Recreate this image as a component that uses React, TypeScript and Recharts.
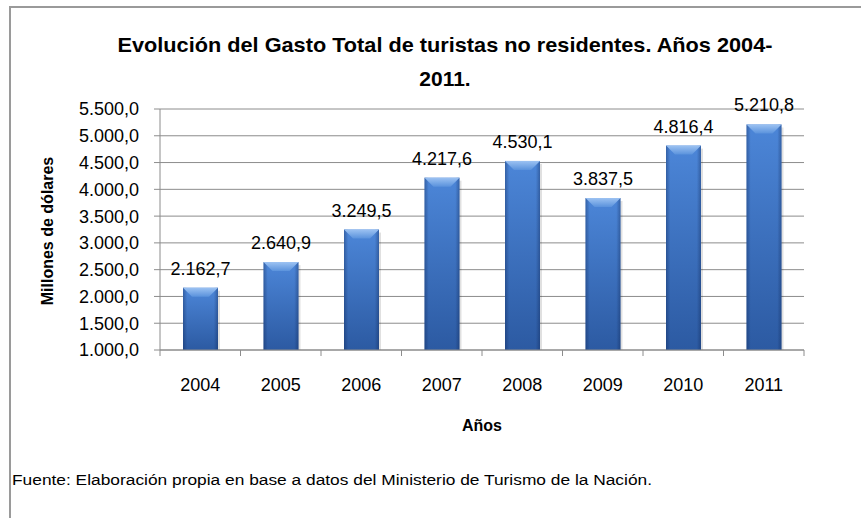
import React from "react";
import {
  Bar,
  BarChart,
  CartesianGrid,
  LabelList,
  XAxis,
  YAxis,
} from "recharts";

const years = ["2004", "2005", "2006", "2007", "2008", "2009", "2010", "2011"];
const gasto = [2162.7, 2640.9, 3249.5, 4217.6, 4530.1, 3837.5, 4816.4, 5210.8];
const yTicks = [1000, 1500, 2000, 2500, 3000, 3500, 4000, 4500, 5000, 5500];

const title1 = "Evolución del Gasto Total de turistas no residentes. Años 2004-";
const title2 = "2011.";
const yTitle = "Millones de dólares";
const xTitle = "Años";
const source =
  "Fuente: Elaboración propia en base a datos del Ministerio de Turismo de la Nación.";

const data = years.map((year, i) => ({ year, gasto: gasto[i] }));

const FONT = "'Liberation Sans', Arial, sans-serif";
const GRID = "#8c8c8c";

// 2162.7 -> "2.162,7"
function fmt(v: number) {
  const [int, dec] = v.toFixed(1).split(".");
  return int.replace(/\B(?=(\d{3})+(?!\d))/g, ".") + "," + dec;
}

function BevelBar(props: any) {
  const { x, y, width, height } = props;
  if (!height || height <= 0) return null;
  const bev = Math.min(9, height / 2);
  return (
    <g>
      <rect x={x + 2} y={y + 3} width={width} height={height} fill="rgba(0,0,0,0.12)" />
      <rect x={x} y={y} width={width} height={height} fill="url(#barV)" />
      <rect x={x} y={y} width={width} height={height} fill="url(#barH)" />
      <polygon
        points={`${x},${y} ${x + width},${y} ${x + width - bev},${y + bev} ${x + bev},${y + bev}`}
        fill="url(#barTop)"
      />
    </g>
  );
}

function YearTick(props: any) {
  const { x, y, payload, index } = props;
  const off = payload.offset || 0;
  const last = index === years.length - 1;
  return (
    <g>
      <line x1={x - off} y1={y} x2={x - off} y2={y + 6} stroke={GRID} />
      {last && <line x1={x + off} y1={y} x2={x + off} y2={y + 6} stroke={GRID} />}
      <text x={x} y={y + 41} textAnchor="middle" fontSize={18} fontFamily={FONT} fill="#000">
        {payload.value}
      </text>
    </g>
  );
}

export default function App() {
  return (
    <div
      style={{
        position: "fixed",
        left: 0,
        top: 0,
        width: 861,
        height: 518,
        overflow: "hidden",
        background: "#fff",
      }}
    >
      <div
        style={{
          position: "absolute",
          left: 9,
          top: 6,
          width: 900,
          height: 600,
          border: "2px solid #9a9a9a",
        }}
      />
      <div style={{ position: "absolute", left: 0, top: 0 }}>
        <BarChart
          width={861}
          height={518}
          data={data}
          margin={{ top: 109, right: 57, bottom: 108, left: 0 }}
        >
          <defs>
            <linearGradient id="barV" x1="0" y1="0" x2="0" y2="1">
              <stop offset="0%" stopColor="#4c86d8" />
              <stop offset="100%" stopColor="#2c5aa2" />
            </linearGradient>
            <linearGradient id="barH" x1="0" y1="0" x2="1" y2="0">
              <stop offset="0%" stopColor="#0a1e4a" stopOpacity={0.35} />
              <stop offset="12%" stopColor="#0a1e4a" stopOpacity={0} />
              <stop offset="88%" stopColor="#0a1e4a" stopOpacity={0} />
              <stop offset="100%" stopColor="#0a1e4a" stopOpacity={0.35} />
            </linearGradient>
            <linearGradient id="barTop" x1="0" y1="0" x2="0" y2="1">
              <stop offset="0%" stopColor="#9cc2f2" />
              <stop offset="100%" stopColor="#5a92dc" />
            </linearGradient>
          </defs>
          <CartesianGrid vertical={false} stroke={GRID} />
          <XAxis
            dataKey="year"
            height={60}
            axisLine={{ stroke: GRID }}
            tickLine={false}
            tickSize={0}
            tickMargin={0}
            interval={0}
            tick={<YearTick />}
          />
          <YAxis
            width={160}
            domain={[1000, 5500]}
            ticks={yTicks}
            allowDataOverflow
            tickFormatter={fmt}
            axisLine={{ stroke: GRID }}
            tickLine={{ stroke: GRID }}
            tickSize={6}
            tickMargin={15}
            tick={{ fontSize: 18, fontFamily: FONT, fill: "#000" }}
          />
          <Bar dataKey="gasto" barSize={35} shape={<BevelBar />} isAnimationActive={false}>
            <LabelList
              dataKey="gasto"
              position="top"
              offset={13}
              formatter={(v: any) => fmt(Number(v))}
              style={{ fontSize: 18, fontFamily: FONT, fill: "#000" }}
            />
          </Bar>
        </BarChart>
      </div>
      <svg
        width={861}
        height={518}
        style={{ position: "absolute", left: 0, top: 0, pointerEvents: "none" }}
      >
        <g fontFamily={FONT} fontWeight="bold" fill="#000">
          <text x={445} y={52} textAnchor="middle" fontSize={21} textLength={655} lengthAdjust="spacingAndGlyphs">
            {title1}
          </text>
          <text x={445} y={86} textAnchor="middle" fontSize={21}>
            {title2}
          </text>
          <text x={482} y={431} textAnchor="middle" fontSize={16}>
            {xTitle}
          </text>
          <text
            x={0}
            y={0}
            textAnchor="middle"
            fontSize={16}
            transform="translate(53 231) rotate(-90)"
          >
            {yTitle}
          </text>
        </g>
        <text x={12} y={485} fontFamily={FONT} fontSize={14} fill="#000" textLength={640} lengthAdjust="spacingAndGlyphs">
          {source}
        </text>
      </svg>
    </div>
  );
}
